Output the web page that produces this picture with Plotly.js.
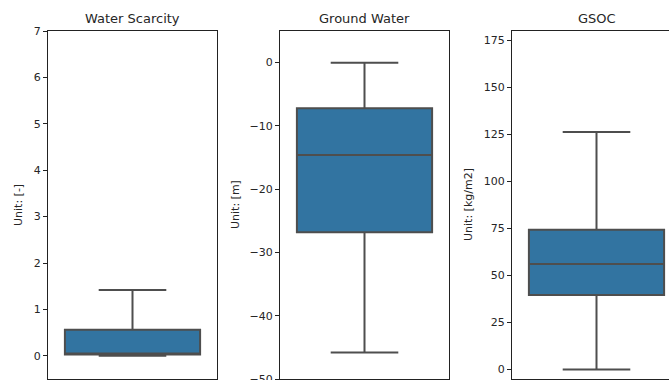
<!DOCTYPE html>
<html>
<head>
<meta charset="utf-8">
<script src="https://cdn.plot.ly/plotly-3.0.1.min.js"></script>
<style>
html, body { margin: 0; padding: 0; overflow: hidden; background: #fff; }
#chart { width: 700px; height: 420px; }
</style>
</head>
<body>
<div id="chart"></div>
<script>
// Panel titles and unit labels
const panelTitles = ["Water Scarcity", "Ground Water", "GSOC"];
const unitLabels = ["Unit: [-]", "Unit: [m]", "Unit: [kg/m2]"];

// Box statistics (lower whisker, Q1, median, Q3, upper whisker)
const lowerWhisker = [0.0, -45.8, 0.0];
const q1Values = [0.03, -26.8, 39.6];
const medianValues = [0.04, -14.6, 56.1];
const q3Values = [0.56, -7.2, 74.3];
const upperWhisker = [1.42, 0.0, 126.3];

// Y axis ranges and ticks
const yRanges = [[-0.5, 7], [-50, 5], [-5, 180]];
const yTicks = [
  [0, 1, 2, 3, 4, 5, 6, 7],
  [-50, -40, -30, -20, -10, 0],
  [0, 25, 50, 75, 100, 125, 150, 175]
];

const W = 700, H = 420;
const ML = 48, MR = 19, MT = 31, PH = 348;
const MB = H - MT - PH;
const PW = W - ML - MR;
const panelW = 169, panelStep = 232;

const boxFill = "#3274a1";
const boxLine = "rgb(78,78,78)";
const axisColor = "#222";
const fontFam = "DejaVu Sans, sans-serif";

const traces = [];
const layout = {
  width: W, height: H,
  margin: {l: ML, r: MR, t: MT, b: MB, pad: 0},
  paper_bgcolor: "#fff",
  plot_bgcolor: "#fff",
  showlegend: false,
  font: {family: fontFam, size: 11, color: "#262626"},
  annotations: []
};

for (let i = 0; i < 3; i++) {
  const sfx = i === 0 ? "" : String(i + 1);
  const x0 = (i * panelStep) / PW;
  const x1 = (i * panelStep + panelW) / PW;
  traces.push({
    type: "box",
    x: [0],
    q1: [q1Values[i]],
    median: [medianValues[i]],
    q3: [q3Values[i]],
    lowerfence: [lowerWhisker[i]],
    upperfence: [upperWhisker[i]],
    width: 0.8,
    whiskerwidth: 0.5,
    fillcolor: boxFill,
    line: {color: boxLine, width: 2},
    boxpoints: false,
    xaxis: "x" + sfx,
    yaxis: "y" + sfx,
    hoverinfo: "skip"
  });
  layout["xaxis" + sfx] = {
    domain: [x0, x1],
    range: [-0.5, 0.5],
    type: "linear",
    anchor: "y" + sfx,
    showline: true, mirror: true, linecolor: axisColor, linewidth: 1,
    showgrid: false, zeroline: false,
    ticks: "outside", ticklen: 4, tickcolor: axisColor,
    tickvals: [0], ticktext: [""],
    fixedrange: true
  };
  layout["yaxis" + sfx] = {
    domain: [0, 1],
    range: yRanges[i],
    anchor: "x" + sfx,
    showline: true, mirror: true, linecolor: axisColor, linewidth: 1,
    showgrid: false, zeroline: false,
    ticks: "outside", ticklen: 4, tickcolor: axisColor, tickwidth: 1,
    tickvals: yTicks[i],
    tickfont: {family: fontFam, size: 11, color: "#262626"},
    fixedrange: true
  };
  // Panel title
  layout.annotations.push({
    text: panelTitles[i],
    xref: "paper", yref: "paper",
    x: (x0 + x1) / 2, y: 1 + (MT - 19) / PH,
    xanchor: "center", yanchor: "middle",
    showarrow: false,
    font: {family: fontFam, size: 13, color: "#262626"}
  });
}

// Unit labels (y axis titles)
const unitX = [18, 235, 468];
for (let i = 0; i < 3; i++) {
  layout.annotations.push({
    text: unitLabels[i],
    xref: "paper", yref: "paper",
    x: (unitX[i] - ML) / PW, y: 1 - (205 - MT) / PH,
    xanchor: "center", yanchor: "middle",
    textangle: -90,
    showarrow: false,
    font: {family: fontFam, size: 11, color: "#262626"}
  });
}

Plotly.newPlot("chart", traces, layout, {staticPlot: true, displayModeBar: false});
</script>
</body>
</html>
